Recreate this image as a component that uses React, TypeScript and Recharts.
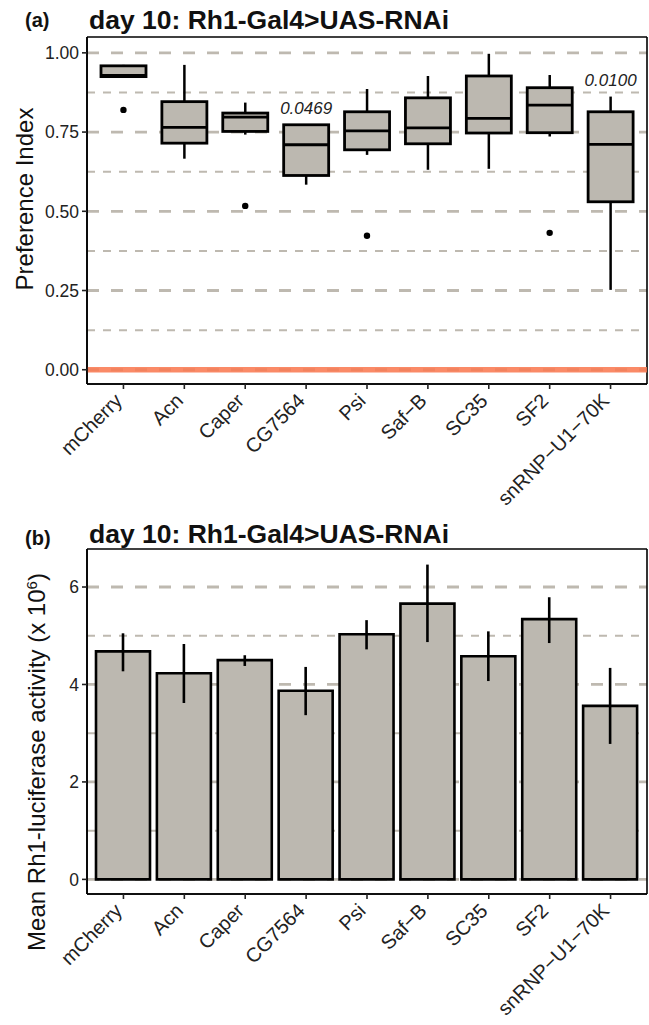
import React from "react";
import {
  ComposedChart,
  BarChart,
  Bar,
  Scatter,
  XAxis,
  YAxis,
  ReferenceLine,
  ErrorBar,
  CartesianGrid,
} from "recharts";

const FONT = "'Liberation Sans', Arial, sans-serif";
const FILL = "#BCB8B0";
const GRID = "#BEB9B0";

const genes = [
  "mCherry",
  "Acn",
  "Caper",
  "CG7564",
  "Psi",
  "Saf\u2212B",
  "SC35",
  "SF2",
  "snRNP\u2212U1\u221270K",
];

// (a) preference index, boxplot stats
const piLow = [0.925, 0.666, 0.742, 0.584, 0.678, 0.631, 0.634, 0.736, 0.252];
const piQ1 = [0.925, 0.715, 0.752, 0.613, 0.694, 0.713, 0.747, 0.748, 0.53];
const piMedian = [0.929, 0.765, 0.797, 0.71, 0.754, 0.763, 0.793, 0.835, 0.711];
const piQ3 = [0.959, 0.846, 0.81, 0.773, 0.814, 0.858, 0.927, 0.89, 0.814];
const piHigh = [0.962, 0.962, 0.843, 0.775, 0.886, 0.927, 0.997, 0.93, 0.862];
const piOutlier = [0.82, null, 0.517, null, 0.423, null, null, 0.432, null];
const piPval = ["", "", "", "0.0469", "", "", "", "", "0.0100"];
const piMajor = [0, 0.25, 0.5, 0.75, 1];
const piMinor = [0.125, 0.375, 0.625, 0.875];

// (b) luciferase activity (x 10^6)
const lucMean = [4.68, 4.23, 4.5, 3.87, 5.03, 5.66, 4.58, 5.34, 3.56];
const lucLow = [4.27, 3.62, 4.38, 3.37, 4.72, 4.87, 4.07, 4.85, 2.78];
const lucHigh = [5.05, 4.83, 4.6, 4.36, 5.32, 6.46, 5.09, 5.79, 4.34];
const lucMajor = [0, 2, 4, 6];
const lucMinor = [1, 3, 5];

const piData = genes.map((gene, i) => ({
  gene,
  range: [piLow[i], piHigh[i]],
  low: piLow[i],
  q1: piQ1[i],
  median: piMedian[i],
  q3: piQ3[i],
  high: piHigh[i],
  outlier: piOutlier[i],
  pval: piPval[i],
}));

const lucData = genes.map((gene, i) => ({
  gene,
  mean: lucMean[i],
  err: [lucMean[i] - lucLow[i], lucHigh[i] - lucMean[i]],
}));

function BoxShape(props: any) {
  const { x, y, width, height, payload } = props;
  const top = Math.min(y, y + height);
  const bottom = Math.max(y, y + height);
  const span = payload.high - payload.low || 1;
  const py = (v: number) => bottom - ((v - payload.low) / span) * (bottom - top);
  const cx = x + width / 2;
  return (
    <g>
      <line x1={cx} x2={cx} y1={py(payload.high)} y2={py(payload.q3)} stroke="#000" strokeWidth={2.5} />
      <line x1={cx} x2={cx} y1={py(payload.q1)} y2={py(payload.low)} stroke="#000" strokeWidth={2.5} />
      <rect
        x={x}
        y={py(payload.q3)}
        width={width}
        height={py(payload.q1) - py(payload.q3)}
        fill={FILL}
        stroke="#000"
        strokeWidth={2.8}
      />
      <line x1={x} x2={x + width} y1={py(payload.median)} y2={py(payload.median)} stroke="#000" strokeWidth={2.8} />
      {payload.pval ? (
        <text
          x={cx}
          y={py(payload.high + 0.05)}
          textAnchor="middle"
          dominantBaseline="central"
          fontStyle="italic"
          fontSize={17}
          fontFamily={FONT}
          fill="#222"
        >
          {payload.pval}
        </text>
      ) : null}
    </g>
  );
}

function Outlier(props: any) {
  if (props.payload.outlier == null) return <g />;
  return <circle cx={props.cx} cy={props.cy} r={3.2} fill="#000" />;
}

function GeneTick({ x, y, payload }: any) {
  const ax = x;
  const ay = y + 11;
  return (
    <text
      x={ax}
      y={ay}
      transform={`rotate(-45 ${ax} ${ay})`}
      textAnchor="end"
      fontSize={20}
      fontFamily={FONT}
      fill="#222"
    >
      {payload.value}
    </text>
  );
}

const tickStyle = { fontSize: 17.5, fill: "#222", fontFamily: FONT };

// dashed horizontal grid behind the marks, plus the panel border
function Grids(major: number[], minor: number[]) {
  return [
    <CartesianGrid key="gmi" vertical={false} horizontalValues={minor} stroke={GRID} strokeWidth={2} strokeDasharray="8 8" />,
    <CartesianGrid key="gma" vertical={false} horizontalValues={major} stroke={GRID} strokeWidth={2.8} strokeDasharray="12 12" />,
    <CartesianGrid
      key="border"
      stroke="#000"
      strokeWidth={1.6}
      horizontalCoordinatesGenerator={({ offset }: any) => [offset.top, offset.top + offset.height]}
      verticalCoordinatesGenerator={({ offset }: any) => [offset.left, offset.left + offset.width]}
    />,
  ];
}

export default function App() {
  return (
    <div style={{ position: "absolute", left: 0, top: 0, width: 649, height: 1025, background: "#fff" }}>
      <div style={{ position: "absolute", left: 0, top: 0 }}>
        <ComposedChart width={649} height={540} data={piData} margin={{ top: 37, right: 2, left: 0, bottom: 0 }}>
          {Grids(piMajor, piMinor)}
          <ReferenceLine y={0} stroke="#F97A52" strokeOpacity={0.88} strokeWidth={5.5} />
          <XAxis
            dataKey="gene"
            interval={0}
            height={156}
            padding={{ left: 6, right: 6 }}
            tick={<GeneTick />}
            tickSize={5}
            tickLine={{ stroke: "#222", strokeWidth: 1.6 }}
            axisLine={{ stroke: "#000", strokeWidth: 1.6 }}
          />
          <YAxis
            width={87}
            domain={[-0.045, 1.05]}
            ticks={piMajor}
            allowDataOverflow
            tickFormatter={(v: number) => v.toFixed(2)}
            tick={tickStyle}
            tickSize={5}
            tickMargin={3}
            tickLine={{ stroke: "#222", strokeWidth: 1.6 }}
            axisLine={{ stroke: "#000", strokeWidth: 1.6 }}
          />
          <Bar dataKey="range" barSize={45} shape={<BoxShape />} isAnimationActive={false} />
          <Scatter dataKey="outlier" shape={<Outlier />} isAnimationActive={false} />
        </ComposedChart>
      </div>
      <div style={{ position: "absolute", left: 0, top: 512 }}>
        <BarChart width={649} height={513} data={lucData} margin={{ top: 37, right: 2, left: 0, bottom: 0 }}>
          {Grids(lucMajor, lucMinor)}
          <XAxis
            dataKey="gene"
            interval={0}
            height={131}
            padding={{ left: 6, right: 6 }}
            tick={<GeneTick />}
            tickSize={5}
            tickLine={{ stroke: "#222", strokeWidth: 1.6 }}
            axisLine={{ stroke: "#000", strokeWidth: 1.6 }}
          />
          <YAxis
            width={87}
            domain={[-0.3, 6.78]}
            ticks={lucMajor}
            allowDataOverflow
            tick={tickStyle}
            tickSize={5}
            tickMargin={3}
            tickLine={{ stroke: "#222", strokeWidth: 1.6 }}
            axisLine={{ stroke: "#000", strokeWidth: 1.6 }}
          />
          <Bar dataKey="mean" barSize={54} fill={FILL} stroke="#000" strokeWidth={2.6} isAnimationActive={false}>
            <ErrorBar dataKey="err" width={0} stroke="#000" strokeWidth={2.6} />
          </Bar>
        </BarChart>
      </div>
      <svg width={649} height={1025} style={{ position: "absolute", left: 0, top: 0, pointerEvents: "none" }} fontFamily={FONT}>
        <text x={25} y={27} fontSize={20} fontWeight="bold" fill="#111">(a)</text>
        <text x={89} y={29} fontSize={26.5} fontWeight="bold" fill="#111">day 10: Rh1-Gal4&gt;UAS-RNAi</text>
        <text x={25} y={545} fontSize={20} fontWeight="bold" fill="#111">(b)</text>
        <text x={89} y={543} fontSize={26.5} fontWeight="bold" fill="#111">day 10: Rh1-Gal4&gt;UAS-RNAi</text>
        <text transform="translate(33 199) rotate(-90)" textAnchor="middle" fontSize={24} fill="#111">Preference Index</text>
        <text transform="translate(45 762) rotate(-90)" textAnchor="middle" fontSize={24} fill="#111">
          Mean Rh1-luciferase activity (x 10<tspan baselineShift="super" fontSize={15}>6</tspan>)
        </text>
      </svg>
    </div>
  );
}
